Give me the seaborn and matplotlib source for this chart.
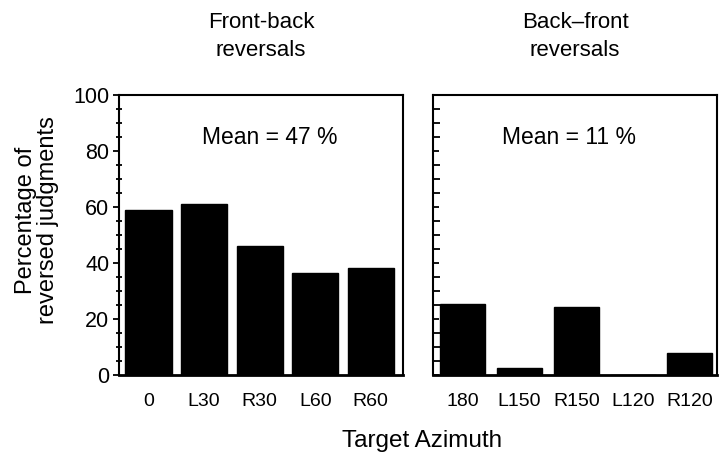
import matplotlib
matplotlib.use("Agg")
import matplotlib.pyplot as plt
import seaborn as sns
import pandas as pd
from matplotlib.ticker import MultipleLocator

front_labels = ["0", "L30", "R30", "L60", "R60"]
front_values = [59, 61, 46, 36.5, 38.3]
back_labels = ["180", "L150", "R150", "L120", "R120"]
back_values = [25.2, 2.4, 24.2, 0, 8]
titles = ["Front-back\nreversals", "Back\u2013front\nreversals"]
mean_texts = ["Mean = 47 %", "Mean = 11 %"]

sns.set_style("ticks")
plt.rcParams['font.family'] = ['Liberation Sans', 'DejaVu Sans']
plt.rcParams.update({"text.color": "black", "axes.labelcolor": "black",
                     "xtick.color": "black", "ytick.color": "black"})

fig = plt.figure(figsize=(7.19, 4.57), dpi=100)
ax1 = fig.add_axes([119/719, 82/457, 284/719, 280/457])
ax2 = fig.add_axes([433/719, 82/457, 284/719, 280/457])

panels = [
    (ax1, front_labels, front_values, (-0.53, 4.58), 0.83, 0.53),
    (ax2, back_labels, back_values, (-0.525, 4.48), 0.8, 0.479),
]
for i, (ax, labels, vals, xl, w, mx) in enumerate(panels):
    df = pd.DataFrame({"azimuth": labels, "pct": vals})
    sns.barplot(data=df, x="azimuth", y="pct", ax=ax, color="black",
                edgecolor="black", width=w, saturation=1)
    ax.set_xlim(*xl)
    ax.set_ylim(0, 100)
    ax.set_xlabel("")
    ax.set_ylabel("")
    for s in ax.spines.values():
        s.set_visible(True)
        s.set_linewidth(1.5)
        s.set_color("black")
    ax.spines["bottom"].set_linewidth(2)
    ax.tick_params(axis="x", length=0, pad=13, labelsize=14, colors="black")
    ax.yaxis.set_major_locator(MultipleLocator(20))
    ax.yaxis.set_minor_locator(MultipleLocator(5))
    ax.tick_params(axis="y", which="major", direction="out", length=4, width=1.3,
                   labelsize=15.5, pad=3, colors="black")
    ax.tick_params(axis="y", which="minor", direction="inout", length=5, width=1.3, colors="black")
    ax.text(mx, 0.85, mean_texts[i], transform=ax.transAxes, ha="center", va="center",
            fontsize=16.5, color="black")
    ax.set_title(titles[i], fontsize=16, pad=28, linespacing=1.42, color="black")

ax2.tick_params(axis="y", which="both", labelleft=False, direction="in")

fig.text(37/719, 1 - 220/457, "Percentage of\nreversed judgments", rotation=90,
         ha="center", va="center", fontsize=17, linespacing=1.0, color="black")
fig.text(422/719, 1 - 441/457, "Target Azimuth", ha="center", va="center",
         fontsize=17.5, color="black")

fig.savefig("out.png", dpi=100)
